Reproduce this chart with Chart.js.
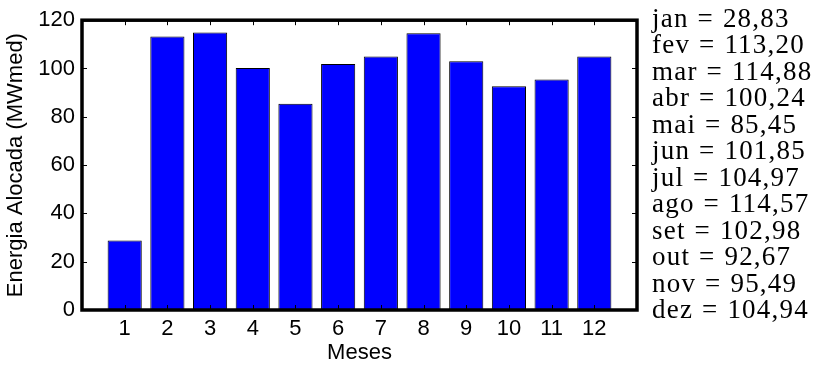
<!DOCTYPE html>
<html>
<head>
<meta charset="utf-8">
<script src="https://cdn.jsdelivr.net/npm/chart.js@4/dist/chart.umd.min.js"></script>
<style>
  html, body { margin: 0; padding: 0; background: #fff; }
  #wrap { position: relative; width: 815px; height: 366px; }
  #legendList { position: absolute; left: 652px; top: 5px; font-family: "Liberation Serif", serif;
    font-size: 27px; line-height: 26.45px; color: #000; letter-spacing: 1.2px; word-spacing: 1px; white-space: nowrap; }
</style>
</head>
<body>
<div id="wrap">
  <canvas id="c" width="815" height="366"></canvas>
  <div id="legendList"></div>
</div>
<script>
// meses e energia alocada (MWmed)
const meses = [1, 2, 3, 4, 5, 6, 7, 8, 9, 10, 11, 12];
const nomesMeses = ['jan', 'fev', 'mar', 'abr', 'mai', 'jun', 'jul', 'ago', 'set', 'out', 'nov', 'dez'];
const energia = [28.83, 113.20, 114.88, 100.24, 85.45, 101.85, 104.97, 114.57, 102.98, 92.67, 95.49, 104.94];
const yTicks = [0, 20, 40, 60, 80, 100, 120];

// lista de valores ao lado do grafico
const list = document.getElementById('legendList');
nomesMeses.forEach((m, i) => {
    const d = document.createElement('div');
    d.textContent = m + ' = ' + energia[i].toFixed(2).replace('.', ',');
    list.appendChild(d);
});

// moldura grossa + ticks para dentro (estilo matlab)
const framePlugin = {
    id: 'frame',
    afterDatasetsDraw(chart) {
        const { ctx, chartArea: a, scales: { x, y } } = chart;
        const tl = 5;
        ctx.save();
        ctx.strokeStyle = '#000';
        ctx.lineWidth = 1;
        ctx.beginPath();
        meses.forEach(v => {
            const px = Math.round(x.getPixelForValue(v)) + 0.5;
            ctx.moveTo(px, a.bottom); ctx.lineTo(px, a.bottom - tl);
            ctx.moveTo(px, a.top); ctx.lineTo(px, a.top + tl);
        });
        yTicks.forEach(v => {
            const py = Math.round(y.getPixelForValue(v)) + 0.5;
            ctx.moveTo(a.left, py); ctx.lineTo(a.left + tl, py);
            ctx.moveTo(a.right, py); ctx.lineTo(a.right - tl, py);
        });
        ctx.stroke();
        ctx.lineWidth = 3.5;
        ctx.strokeRect(a.left, a.top, a.right - a.left, a.bottom - a.top);
        ctx.restore();
    }
};

const fonte = { family: 'Liberation Sans', size: 22 };

new Chart(document.getElementById('c'), {
    type: 'bar',
    data: {
        datasets: [{
            data: meses.map((m, i) => ({ x: m, y: energia[i] })),
            backgroundColor: '#0000ff',
            borderColor: '#000',
            borderWidth: 1,
            barPercentage: 0.8,
            categoryPercentage: 1
        }]
    },
    options: {
        responsive: false,
        animation: false,
        devicePixelRatio: 1,
        layout: { padding: { left: 0, right: 178, top: 16, bottom: 0 } },
        plugins: { legend: { display: false }, tooltip: { enabled: false } },
        scales: {
            x: {
                type: 'linear', min: 0, max: 13, offset: false,
                afterBuildTicks: s => { s.ticks = meses.map(v => ({ value: v })); },
                afterFit: s => { s.height = 56; },
                grid: { display: false, drawTicks: false, offset: false },
                border: { display: false },
                ticks: { color: '#000', font: fonte, padding: 6, maxRotation: 0 },
                title: { display: true, text: 'Meses', color: '#000', font: fonte, padding: { top: 3, bottom: 0 } }
            },
            y: {
                min: 0, max: 120,
                afterBuildTicks: s => { s.ticks = yTicks.map(v => ({ value: v })); },
                afterFit: s => { s.width = 82; },
                grid: { display: false, drawTicks: false },
                border: { display: false },
                ticks: { color: '#000', font: fonte, padding: 7 },
                title: { display: true, text: 'Energia Alocada (MWmed)', color: '#000', font: fonte, padding: { top: 3, bottom: 0 } }
            }
        }
    },
    plugins: [framePlugin]
});
</script>
</body>
</html>
